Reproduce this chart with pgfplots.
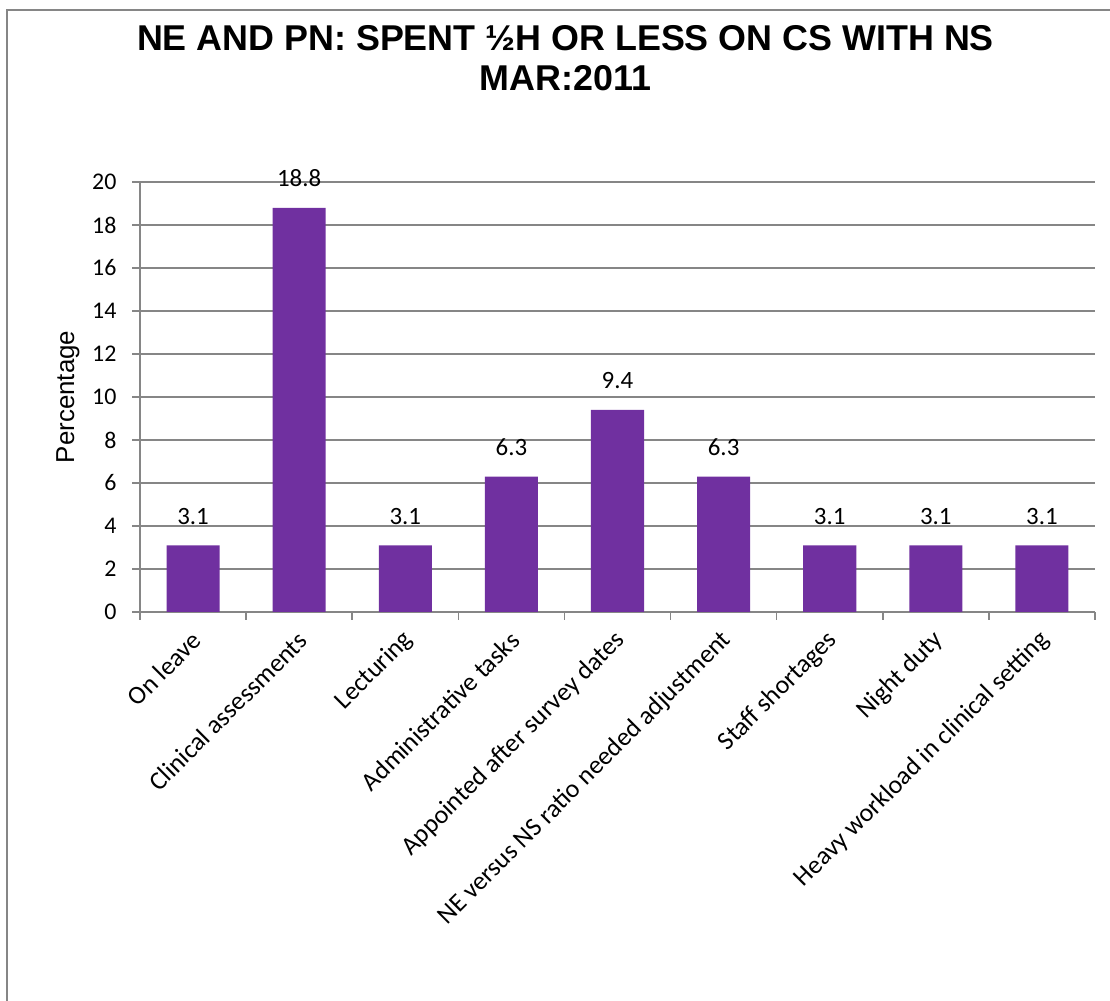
\documentclass[border=0pt]{standalone}
\usepackage{pgfplots}
\pgfplotsset{compat=1.18}
\usepackage{fontspec}
\setmainfont{Carlito}
\newfontfamily\arialfont{Liberation Sans}
\definecolor{barpurple}{HTML}{7030A0}
\definecolor{gridgray}{HTML}{868686}
\begin{document}
\begin{tikzpicture}[x=1bp,y=1bp]
\useasboundingbox (0,0) rectangle (1110,1001);
\draw[gridgray, line width=2bp] (7,-20) -- (7,991) -- (1130,991);
\begin{axis}[
  at={(140bp,389bp)}, anchor=south west,
  width=955bp, height=430bp, scale only axis,
  xmin=-0.5, xmax=8.5, ymin=0, ymax=20,
  ytick={0,2,...,20},
  axis x line*=bottom, axis y line*=left,
  axis line style={gridgray, line width=1.5bp},
  ymajorgrids, grid style={gridgray, line width=1.5bp},
  tick align=outside, major tick length=8bp,
  tick style={gridgray, line width=1.5bp},
  xtick={-0.5,0.5,...,8.5}, xticklabels={},
  extra x ticks={0,1,2,3,4,5,6,7,8},
  extra x tick labels={On leave,Clinical assessments,Lecturing,Administrative tasks,Appointed after survey dates,NE versus NS ratio needed adjustment,Staff shortages,Night duty,Heavy workload in clinical setting},
  extra x tick style={major tick length=0pt, xticklabel style={font=\fontsize{26}{31}\selectfont, xshift=6bp, yshift=-22bp, rotate=45, anchor=east}},
  ticklabel style={font=\fontsize{24}{29}\selectfont, text=black},
  yticklabel style={anchor=east, xshift=-12bp},
  /pgf/number format/assume math mode=true,
  ylabel={Percentage},
  ylabel style={at={(axis description cs:-0.0754,0.5)}, anchor=center, font=\arialfont\fontsize{26}{30}\selectfont},
  title={NE AND PN: SPENT ½H OR LESS ON CS WITH NS\\MAR:2011},
  title style={at={(axis description cs:0.4455,1.200)}, anchor=base, align=center, font=\arialfont\bfseries\fontsize{36}{39.5}\selectfont},
  ybar, bar width=0.5,
  nodes near coords,
  every node near coord/.append style={font=\fontsize{25}{30}\selectfont, anchor=base, inner sep=0pt, yshift=21bp, text=black},
]
\addplot[fill=barpurple, draw=none] coordinates {(0,3.1) (1,18.8) (2,3.1) (3,6.3) (4,9.4) (5,6.3) (6,3.1) (7,3.1) (8,3.1)};
\end{axis}
\end{tikzpicture}
\end{document}
